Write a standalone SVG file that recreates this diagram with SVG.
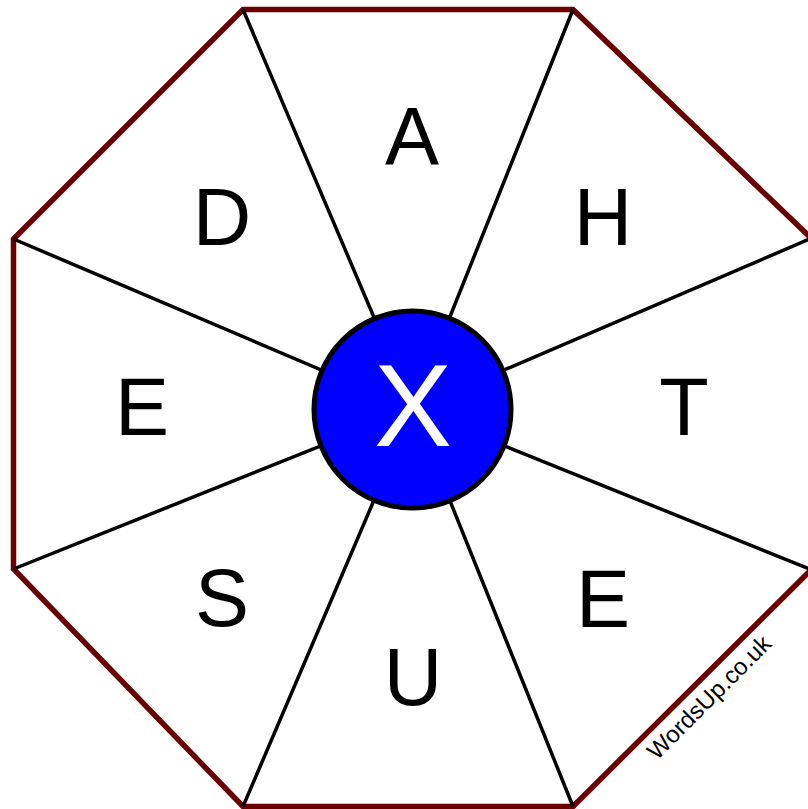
<svg xmlns="http://www.w3.org/2000/svg" width="808" height="809" viewBox="0 0 808 809">
<style>
.letter{font-family:"Liberation Sans",Arial,sans-serif;font-size:81px;fill:#000;text-anchor:middle}
.spoke{stroke:#000;stroke-width:3.5;fill:none}
</style>
<rect width="808" height="809" fill="#fff"/>
<g id="octagon">
<polygon points="243,9.5 573,9.5 812,239 812,569 573,806.5 243,806.5 13.5,569 13.5,239" fill="#fff" stroke="#6b0000" stroke-width="5.5" stroke-linejoin="miter"/>
</g>
<g id="connectors">
<line class="spoke" x1="243" y1="9.5" x2="413" y2="409"/>
<line class="spoke" x1="573" y1="9.5" x2="413" y2="409"/>
<line class="spoke" x1="812" y1="238" x2="413" y2="409"/>
<line class="spoke" x1="812" y1="570" x2="413" y2="409"/>
<line class="spoke" x1="573" y1="806.5" x2="413" y2="409"/>
<line class="spoke" x1="243" y1="806.5" x2="413" y2="409"/>
<line class="spoke" x1="13.5" y1="569" x2="413" y2="409"/>
<line class="spoke" x1="13.5" y1="239" x2="413" y2="409"/>
</g>
<g id="node-A"><text class="letter" x="412" y="164">A</text></g>
<g id="node-H"><text class="letter" x="603" y="245">H</text></g>
<g id="node-T"><text class="letter" x="684" y="435">T</text></g>
<g id="node-E2"><text class="letter" x="603" y="627">E</text></g>
<g id="node-U"><text class="letter" x="413" y="705">U</text></g>
<g id="node-S"><text class="letter" x="222" y="626">S</text></g>
<g id="node-E1"><text class="letter" x="142" y="435">E</text></g>
<g id="node-D"><text class="letter" x="222" y="245">D</text></g>
<g id="node-X">
<circle cx="412.5" cy="409.5" r="98.5" fill="#0000ff" stroke="#000" stroke-width="5"/>
<text x="413" y="446" font-family="'Liberation Sans',Arial,sans-serif" font-size="117" fill="#fff" text-anchor="middle">X</text>
</g>
<g id="watermark">
<text x="657" y="761" transform="rotate(-45 657 761)" font-family="'Liberation Sans',Arial,sans-serif" font-size="24" fill="#000">WordsUp.co.uk</text>
</g>
</svg>
